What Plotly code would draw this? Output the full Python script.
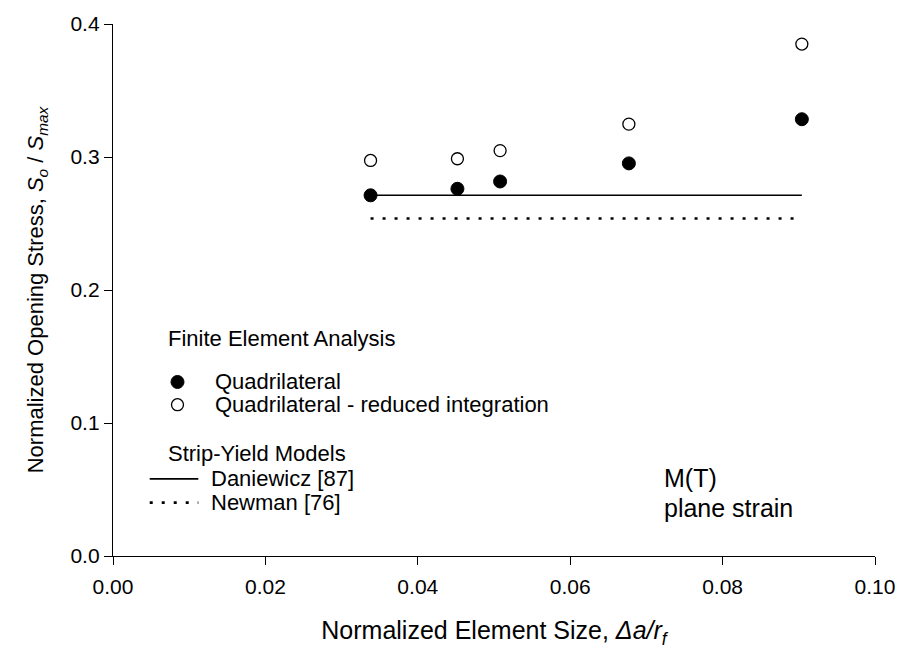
import plotly.graph_objects as go

# ---- data -------------------------------------------------------------
element_size = [0.0338, 0.0452, 0.0508, 0.0677, 0.0904]
quad_full = [0.2712, 0.2761, 0.2816, 0.2952, 0.3284]
quad_reduced = [0.2974, 0.2987, 0.3048, 0.3247, 0.3849]

model_x = [0.0338, 0.0904]
daniewicz = [0.2712, 0.2712]
newman = [0.2538, 0.2538]

x_ticks = [0.00, 0.02, 0.04, 0.06, 0.08, 0.10]
y_ticks = [0.0, 0.1, 0.2, 0.3, 0.4]

FONT = "Liberation Sans, Arial, sans-serif"
W, H = 907, 654
L, R, T, B = 113, 26, 18, 98

fig = go.Figure()

fig.add_trace(go.Scatter(
    x=model_x, y=daniewicz, mode="lines", name="Daniewicz [87]",
    line=dict(color="black", width=1.6), showlegend=False,
))
fig.add_trace(go.Scatter(
    x=model_x, y=newman, mode="lines", name="Newman [76]",
    line=dict(color="black", width=2.6, dash="3px,9px"), showlegend=False,
))
fig.add_trace(go.Scatter(
    x=element_size, y=quad_full, mode="markers", name="Quadrilateral",
    marker=dict(symbol="circle", size=13, color="black",
                line=dict(color="black", width=1)),
    showlegend=False,
))
fig.add_trace(go.Scatter(
    x=element_size, y=quad_reduced, mode="markers",
    name="Quadrilateral - reduced integration",
    marker=dict(symbol="circle", size=12, color="white",
                line=dict(color="black", width=1.3)),
    showlegend=False,
))

# ---- hand-laid legend (pixel positions converted to paper units) -------
pw, ph = W - L - R, H - T - B


def px(x):
    return (x - L) / pw


def py(y):
    return (H - B - y) / ph


annotations = []


def label(text, x, y, size=22):
    annotations.append(dict(
        text=text, xref="paper", yref="paper", x=px(x), y=py(y),
        xanchor="left", yanchor="middle", showarrow=False,
        font=dict(family=FONT, size=size, color="black"),
    ))


label("Finite Element Analysis", 166, 336)
label("Quadrilateral", 214, 380)
label("Quadrilateral - reduced integration", 214, 403)
label("Strip-Yield Models", 166, 452)
label("Daniewicz [87]", 210, 478)
label("Newman [76]", 210, 502)
label("M(T)", 666, 477, size=25)
label("plane strain", 666, 507, size=25)

shapes = [
    dict(type="circle", xref="paper", yref="paper", xsizemode="pixel",
         ysizemode="pixel", xanchor=px(178), yanchor=py(380),
         x0=-6.5, x1=6.5, y0=-6.5, y1=6.5,
         fillcolor="black", line=dict(color="black", width=1)),
    dict(type="circle", xref="paper", yref="paper", xsizemode="pixel",
         ysizemode="pixel", xanchor=px(178), yanchor=py(403),
         x0=-6, x1=6, y0=-6, y1=6,
         fillcolor="white", line=dict(color="black", width=1.3)),
    dict(type="line", xref="paper", yref="paper",
         x0=px(150), x1=px(199), y0=py(478), y1=py(478),
         line=dict(color="black", width=1.6)),
    dict(type="line", xref="paper", yref="paper",
         x0=px(150), x1=px(199), y0=py(502), y1=py(502),
         line=dict(color="black", width=2.6, dash="3px,9px")),
]

fig.update_layout(
    width=W, height=H,
    margin=dict(l=L, r=R, t=T, b=B, pad=0),
    paper_bgcolor="white", plot_bgcolor="white",
    font=dict(family=FONT, size=21, color="black"),
    showlegend=False,
    annotations=annotations,
    shapes=shapes,
)

fig.update_xaxes(
    range=[0, 0.10], tickvals=x_ticks, tickformat=".2f",
    showline=True, linecolor="black", linewidth=1.3,
    ticks="outside", ticklen=8, tickwidth=1.3, tickcolor="black",
    ticklabelstandoff=4,
    showgrid=False, zeroline=False,
    tickfont=dict(family=FONT, size=21),
    title=dict(text="Normalized Element Size, <i>\u0394a/r<sub>f</sub></i>",
               font=dict(family=FONT, size=25), standoff=24),
)
fig.update_yaxes(
    range=[0, 0.4], tickvals=y_ticks, tickformat=".1f",
    showline=True, linecolor="black", linewidth=1.3,
    ticks="outside", ticklen=8, tickwidth=1.3, tickcolor="black",
    showgrid=False, zeroline=False,
    tickfont=dict(family=FONT, size=21),
    title=dict(text="Normalized Opening Stress, <i>S<sub>o</sub></i> / <i>S<sub>max</sub></i>",
               font=dict(family=FONT, size=22), standoff=20),
)

fig.write_html("out.html")
